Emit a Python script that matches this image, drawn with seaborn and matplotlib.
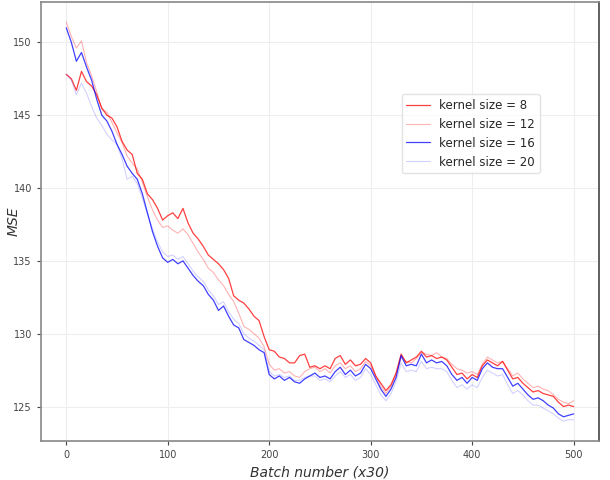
import numpy as np
import pandas as pd
import matplotlib
matplotlib.use("Agg")
import matplotlib.pyplot as plt
import seaborn as sns

batches = list(range(0, 505, 5))

k8 = [147.8, 147.5, 146.7, 148.0, 147.3, 147.0, 146.4, 145.5, 145.0, 144.8,
      144.2, 143.2, 142.6, 142.3, 141.0, 140.6, 139.6, 139.2, 138.6, 137.8,
      138.1, 138.3, 137.9, 138.6, 137.6, 136.9, 136.5, 136.0, 135.4, 135.1,
      134.8, 134.4, 133.8, 132.6, 132.3, 132.1, 131.7, 131.2, 130.9, 129.8,
      128.9, 128.8, 128.4, 128.3, 128.0, 128.0, 128.5, 128.6, 127.7, 127.8,
      127.6, 127.8, 127.6, 128.3, 128.5, 127.9, 128.2, 127.8, 127.9, 128.3,
      128.0, 127.1, 126.6, 126.1, 126.5, 127.3, 128.6, 128.0, 128.2, 128.4,
      128.8, 128.4, 128.5, 128.3, 128.4, 128.2, 127.7, 127.2, 127.3, 126.9,
      127.2, 127.0, 127.8, 128.2, 128.0, 127.8, 128.1, 127.5, 126.9, 127.0,
      126.6, 126.3, 126.0, 126.1, 125.9, 125.8, 125.7, 125.3, 125.0, 125.1,
      125.0]

k12 = [151.4, 150.4, 149.6, 150.1, 148.6, 147.7, 146.6, 145.4, 145.2, 144.5,
       143.8, 143.1, 142.2, 141.7, 141.3, 140.4, 139.4, 138.5, 137.8, 137.3,
       137.4, 137.1, 136.9, 137.2, 136.8, 136.2, 135.6, 135.1, 134.5, 134.2,
       133.7, 133.3, 132.7, 132.2, 131.4, 130.5, 130.3, 130.0, 129.7, 129.1,
       127.9, 127.5, 127.6, 127.3, 127.4, 127.1, 127.0, 127.4, 127.6, 127.7,
       127.4, 127.6, 127.3, 127.8, 128.0, 127.6, 127.8, 127.4, 127.6, 128.1,
       127.8, 127.1, 126.4, 125.9, 126.4, 127.2, 128.4, 128.1, 128.0, 128.3,
       128.7, 128.6, 128.5, 128.7, 128.4, 128.3, 127.9, 127.6, 127.5, 127.3,
       127.4, 127.2, 127.9, 128.4, 128.2, 128.0, 128.1, 127.6, 127.1, 127.3,
       126.9, 126.6, 126.3, 126.4, 126.2, 126.1, 125.8, 125.5, 125.3, 125.2,
       125.4]

k16 = [151.0, 150.0, 148.7, 149.3, 148.3, 147.4, 146.1, 145.0, 144.6, 143.9,
       143.0, 142.3, 141.5, 141.0, 140.6, 139.6, 138.3, 137.0, 136.0, 135.2,
       134.9, 135.1, 134.8, 135.0, 134.5, 134.0, 133.6, 133.3, 132.7, 132.3,
       131.6, 131.9, 131.2, 130.6, 130.4, 129.6, 129.4, 129.2, 128.9, 128.7,
       127.2, 126.9, 127.1, 126.8, 127.0, 126.7, 126.6, 126.9, 127.1, 127.3,
       127.0, 127.1, 126.9, 127.4, 127.7, 127.2, 127.5, 127.1, 127.3, 127.9,
       127.6, 126.9, 126.2, 125.7, 126.2, 127.0, 128.5, 127.8, 127.9, 127.8,
       128.6, 128.0, 128.2, 128.0, 128.1, 127.8, 127.2, 126.8, 127.0, 126.6,
       127.0, 126.8, 127.6, 128.0, 127.7, 127.6, 127.6, 127.0, 126.4, 126.6,
       126.2, 125.8, 125.5, 125.6, 125.4, 125.1, 124.9, 124.5, 124.3, 124.4,
       124.5]

k20 = [147.8, 147.4, 146.4, 147.2, 146.5, 145.6, 144.8, 144.3, 143.7, 143.3,
       143.0, 142.0, 140.6, 140.8, 140.3, 139.3, 138.2, 137.2, 136.3, 135.6,
       135.3, 135.4, 135.1, 135.3, 134.8, 134.3, 133.9, 133.6, 133.0, 132.6,
       132.0, 132.2, 131.5, 131.0, 130.7, 130.0, 129.7, 129.5, 129.2, 128.9,
       127.4, 127.1, 127.2, 127.0, 127.1, 126.8, 126.8, 127.0, 127.1, 127.1,
       126.8, 126.9, 126.7, 127.1, 127.4, 127.0, 127.2, 126.8, 127.0, 127.6,
       127.2, 126.5, 125.8, 125.4, 125.9, 126.7, 128.0, 127.4, 127.5, 127.4,
       128.1, 127.6, 127.7, 127.6, 127.6, 127.4, 126.8, 126.3, 126.5, 126.2,
       126.5, 126.3, 127.0, 127.5, 127.3, 127.1, 127.2, 126.5, 125.9, 126.1,
       125.8, 125.4, 125.1, 125.1, 124.9, 124.7, 124.5, 124.2, 124.0, 124.1,
       124.1]

labels = ["kernel size = 8", "kernel size = 12", "kernel size = 16", "kernel size = 20"]
series = [k8, k12, k16, k20]

sns.set_style("whitegrid")
plt.rcParams['font.family'] = ['DejaVu Sans']

fig = plt.figure(figsize=(6.1, 4.8), dpi=100)
ax = fig.add_axes([0.067, 0.081, 0.915, 0.915])

styles = [("#ff0000", 0.75, 0.9), ("#ff0000", 0.3, 0.8), ("#0000ff", 0.75, 0.9), ("#0000ff", 0.18, 0.8)]
for vals, lab, (c, a, lw) in zip(series, labels, styles):
    df = pd.DataFrame({"batch": batches, "mse": vals})
    sns.lineplot(data=df, x="batch", y="mse", ax=ax, color=c, alpha=a, linewidth=lw, label=lab)

ax.set_yticks([125, 130, 135, 140, 145, 150])
ax.set_xticks([0, 100, 200, 300, 400, 500])
ax.tick_params(labelsize=7, colors="#444444", length=3, left=True, bottom=True)
ax.grid(True, color="#eeeeee", linewidth=0.8)
for side in ["left", "bottom", "top"]:
    ax.spines[side].set_color("#888888")
    ax.spines[side].set_linewidth(1.2)
ax.spines["right"].set_color("#444444")
ax.spines["right"].set_linewidth(1.2)
ax.set_xlabel("Batch number (x30)", fontsize=10, style="italic", color="#333333")
ax.set_ylabel("MSE", fontsize=10, style="italic", color="#333333")
ax.yaxis.set_label_coords(-0.036, 0.5)
leg = ax.legend(loc="center", bbox_to_anchor=(0.77, 0.70), fontsize=8.5, frameon=True)
leg.get_frame().set_edgecolor("#dddddd")
fig.savefig("out.png", dpi=100)
